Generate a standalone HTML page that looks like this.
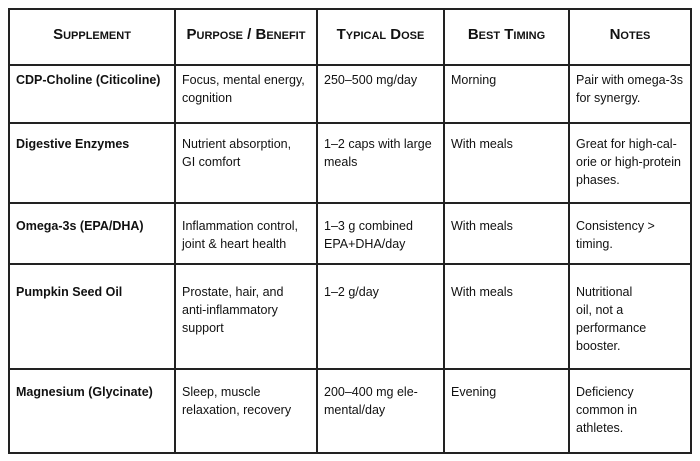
<!DOCTYPE html>
<html><head><style>
body{margin:0;background:#fff;width:700px;height:461px;overflow:hidden;font-family:"Liberation Sans",sans-serif;color:#111;}
.b{position:absolute;background:#222;}
.t{position:absolute;font-size:12.5px;line-height:18px;}
.h{position:absolute;font-size:15px;font-weight:bold;font-variant:small-caps;text-align:center;top:26px;}
.k{font-weight:bold}
</style></head><body>
<div class="b" style="left:8px;top:8px;width:684px;height:2px"></div>
<div class="b" style="left:8px;top:452px;width:684px;height:2px"></div>
<div class="b" style="left:8px;top:8px;width:2px;height:446px"></div>
<div class="b" style="left:690px;top:8px;width:2px;height:446px"></div>
<div class="b" style="left:174px;top:8px;width:2px;height:446px"></div>
<div class="b" style="left:316px;top:8px;width:2px;height:446px"></div>
<div class="b" style="left:443px;top:8px;width:2px;height:446px"></div>
<div class="b" style="left:568px;top:8px;width:2px;height:446px"></div>
<div class="b" style="left:8px;top:64px;width:684px;height:2px"></div>
<div class="b" style="left:8px;top:122px;width:684px;height:2px"></div>
<div class="b" style="left:8px;top:202px;width:684px;height:2px"></div>
<div class="b" style="left:8px;top:263px;width:684px;height:2px"></div>
<div class="b" style="left:8px;top:368px;width:684px;height:2px"></div>

<div class="h" style="left:10px;width:164px">Supplement</div>
<div class="h" style="left:176px;width:140px">Purpose / Benefit</div>
<div class="h" style="left:318px;width:125px">Typical Dose</div>
<div class="h" style="left:445px;width:123px">Best Timing</div>
<div class="h" style="left:570px;width:120px">Notes</div>

<div class="t k" style="left:16px;top:71px">CDP-Choline (Citicoline)</div>
<div class="t" style="left:182px;top:71px">Focus, mental energy,<br>cognition</div>
<div class="t" style="left:324px;top:71px">250–500 mg/day</div>
<div class="t" style="left:451px;top:71px">Morning</div>
<div class="t" style="left:576px;top:71px">Pair with omega-3s<br>for synergy.</div>

<div class="t k" style="left:16px;top:135px">Digestive Enzymes</div>
<div class="t" style="left:182px;top:135px">Nutrient absorption,<br>GI comfort</div>
<div class="t" style="left:324px;top:135px">1–2 caps with large<br>meals</div>
<div class="t" style="left:451px;top:135px">With meals</div>
<div class="t" style="left:576px;top:135px">Great for high-cal-<br>orie or high-protein<br>phases.</div>

<div class="t k" style="left:16px;top:217px">Omega-3s (EPA/DHA)</div>
<div class="t" style="left:182px;top:217px">Inflammation control,<br>joint &amp; heart health</div>
<div class="t" style="left:324px;top:217px">1–3 g combined<br>EPA+DHA/day</div>
<div class="t" style="left:451px;top:217px">With meals</div>
<div class="t" style="left:576px;top:217px">Consistency &gt;<br>timing.</div>

<div class="t k" style="left:16px;top:283px">Pumpkin Seed Oil</div>
<div class="t" style="left:182px;top:283px">Prostate, hair, and<br>anti-inflammatory<br>support</div>
<div class="t" style="left:324px;top:283px">1–2 g/day</div>
<div class="t" style="left:451px;top:283px">With meals</div>
<div class="t" style="left:576px;top:283px">Nutritional<br>oil, not a<br>performance<br>booster.</div>

<div class="t k" style="left:16px;top:383px">Magnesium (Glycinate)</div>
<div class="t" style="left:182px;top:383px">Sleep, muscle<br>relaxation, recovery</div>
<div class="t" style="left:324px;top:383px">200–400 mg ele-<br>mental/day</div>
<div class="t" style="left:451px;top:383px">Evening</div>
<div class="t" style="left:576px;top:383px">Deficiency<br>common in<br>athletes.</div>
</body></html>
